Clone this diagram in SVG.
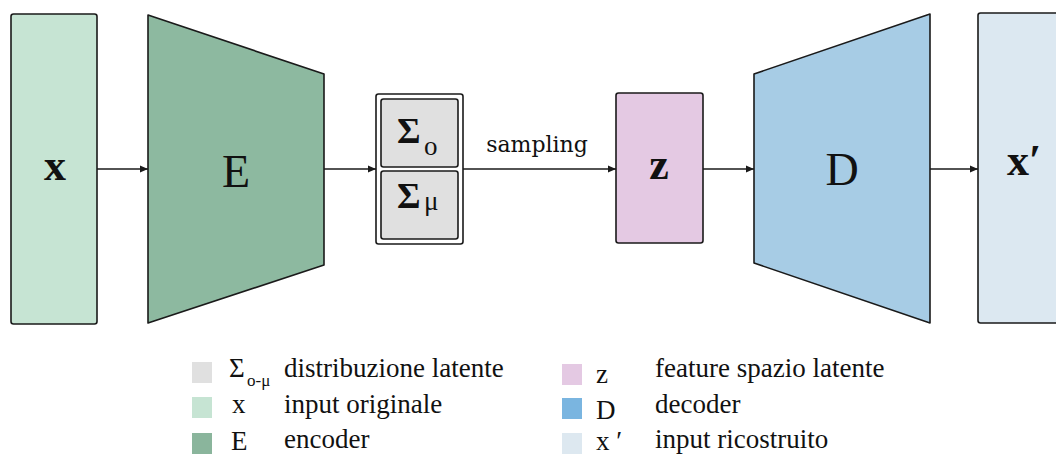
<svg xmlns="http://www.w3.org/2000/svg" width="1056" height="454" viewBox="0 0 1056 454">
<style>
.box{stroke:#1a1a1a;stroke-width:1.6;stroke-linejoin:round}
.conn{stroke:#1a1a1a;stroke-width:1.6;fill:none;marker-end:url(#ah)}
.big{font-family:"Liberation Serif","DejaVu Serif",serif;fill:#111}
.bold{font-family:"Liberation Serif","DejaVu Serif",serif;font-weight:bold;fill:#111}
.lbl{font-family:"DejaVu Serif","Liberation Serif",serif;font-size:22px;fill:#111}
.leg{font-family:"Liberation Serif","DejaVu Serif",serif;font-size:27px;fill:#111}
.sub{font-family:"Liberation Serif","DejaVu Serif",serif;font-size:17px;fill:#111}
</style>
<defs>
<marker id="ah" viewBox="0 0 8 8" refX="8" refY="4" markerWidth="8" markerHeight="8" markerUnits="userSpaceOnUse" orient="auto">
<path d="M0,0.5 L8,4 L0,7.5 Z" fill="#1a1a1a"/>
</marker>
</defs>
<rect width="1056" height="454" fill="#ffffff"/>

<g id="connectors">
<line class="conn" x1="97" y1="169" x2="148" y2="169"/>
<line class="conn" x1="324" y1="169" x2="376" y2="169"/>
<line class="conn" x1="463" y1="169" x2="616" y2="169"/>
<text class="lbl" x="537" y="152" text-anchor="middle">sampling</text>
<line class="conn" x1="703" y1="169" x2="754" y2="169"/>
<line class="conn" x1="930" y1="169" x2="978" y2="169"/>
</g>

<g id="node-x">
<rect class="box" x="11" y="14" width="86" height="310" rx="2.5" fill="#c6e4d3"/>
<text class="bold" x="55" y="180" font-size="44" text-anchor="middle">x</text>
</g>

<g id="node-E">
<path class="box" d="M148,15 L324,74 L324,265 L148,323 Z" fill="#8db9a0"/>
<text class="big" x="236" y="187" font-size="46" text-anchor="middle">E</text>
</g>

<g id="node-sigma">
<rect class="box" x="376" y="94" width="87" height="150" rx="2.5" fill="#ffffff"/>
<rect class="box" x="381" y="99" width="77" height="68" rx="2.5" fill="#e0e0e0"/>
<rect class="box" x="381" y="171" width="77" height="68" rx="2.5" fill="#e0e0e0"/>
<text class="bold" x="397" y="143" font-size="36">Σ</text>
<text class="big" x="424" y="155" font-size="27">o</text>
<text class="bold" x="397" y="208" font-size="36">Σ</text>
<text class="big" x="424" y="210" font-size="27">μ</text>
</g>

<g id="node-z">
<rect class="box" x="616" y="93" width="87" height="150" rx="2.5" fill="#e4c9e3"/>
<text class="bold" x="659" y="179" font-size="44" text-anchor="middle">z</text>
</g>

<g id="node-D">
<path class="box" d="M754,74 L930,14 L930,323 L754,263 Z" fill="#a7cce5"/>
<text class="big" x="842" y="185" font-size="46" text-anchor="middle">D</text>
</g>

<g id="node-xprime">
<rect class="box" x="978" y="13" width="90" height="310" rx="2.5" fill="#dce8f1"/>
<text class="bold" x="1007" y="175" font-size="44">x′</text>
</g>

<g id="legend">
<rect x="192" y="362" width="20" height="21" fill="#e0e0e0"/>
<text class="leg" x="229" y="377">Σ</text>
<text class="sub" x="247" y="386">o-μ</text>
<text class="leg" x="284" y="377">distribuzione latente</text>

<rect x="192" y="397" width="20" height="21" fill="#c6e4d3"/>
<text class="leg" x="232" y="413">x</text>
<text class="leg" x="284" y="413">input originale</text>

<rect x="192" y="433" width="20" height="21" fill="#8ab59c"/>
<text class="leg" x="231" y="450">E</text>
<text class="leg" x="284" y="448">encoder</text>

<rect x="562" y="364" width="20" height="21" fill="#e4c9e3"/>
<text class="leg" x="596" y="383">z</text>
<text class="leg" x="655" y="377">feature spazio latente</text>

<rect x="562" y="398" width="20" height="21" fill="#7ab5e0"/>
<text class="leg" x="596" y="419">D</text>
<text class="leg" x="655" y="413">decoder</text>

<rect x="562" y="433" width="20" height="21" fill="#dde8f0"/>
<text class="leg" x="596" y="450">x ′</text>
<text class="leg" x="655" y="448">input ricostruito</text>
</g>
</svg>
